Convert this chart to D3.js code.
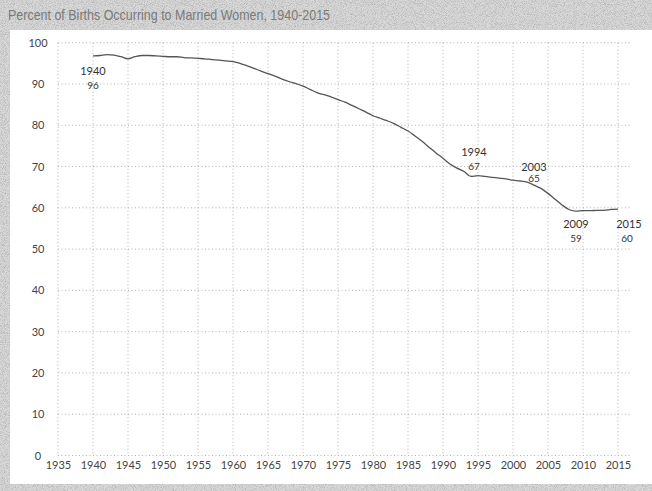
<!DOCTYPE html>
<html lang="en">
<head>
<meta charset="UTF-8">
<title>Percent of Births Occurring to Married Women</title>
<script src="https://d3js.org/d3.v7.min.js"></script>
<style>
  body { margin: 0; background: #fff; }
  svg { display: block; }
</style>
</head>
<body>
<script>
    // data
    const years = d3.range(1940, 2016);
    const pctMarried = [
        96.8, 96.9, 97.1, 97.0, 96.6, 96.1, 96.6, 96.9, 96.9, 96.8,
        96.7, 96.6, 96.6, 96.4, 96.3, 96.2, 96.1, 95.9, 95.8, 95.6,
        95.4, 95.0, 94.4, 93.8, 93.1, 92.5, 91.9, 91.2, 90.6, 90.1,
        89.5, 88.7, 87.9, 87.4, 86.9, 86.2, 85.6, 84.8, 84.0, 83.2,
        82.3, 81.7, 81.1, 80.4, 79.5, 78.6, 77.4, 76.1, 74.7, 73.3,
        72.0, 70.6, 69.6, 68.8, 67.6, 67.8, 67.6, 67.4, 67.2, 67.0,
        66.7, 66.5, 66.2, 65.5, 64.7, 63.5, 62.1, 60.7, 59.6, 59.2,
        59.3, 59.3, 59.4, 59.4, 59.6, 59.7
    ];
    const xTicks = d3.range(1935, 2016, 5);
    const yTicks = d3.range(0, 101, 10);
    const noteYears = [1940, 1994, 2003, 2009, 2015];
    const noteLabels = ["96", "67", "65", "59", "60"];
    const title = "Percent of Births Occurring to Married Women, 1940-2015";

    const width = 652, height = 491;
    const font = "Lato, 'Open Sans', sans-serif";

    const x = d3.scaleLinear().domain([1935, 2015]).range([58, 618]);
    const y = d3.scaleLinear().domain([0, 100]).range([455.5, 42.7]);

    const svg = d3.select("body").append("svg")
        .attr("width", width)
        .attr("height", height);

    // scanned-paper grain for the frame
    const defs = svg.append("defs");
    const f = defs.append("filter").attr("id", "grain")
        .attr("x", 0).attr("y", 0).attr("width", "100%").attr("height", "100%");
    f.append("feTurbulence").attr("type", "fractalNoise")
        .attr("baseFrequency", 1.1).attr("numOctaves", 1).attr("seed", 7);
    f.append("feColorMatrix").attr("type", "matrix")
        .attr("values", "0 0 0 0 0.45  0 0 0 0 0.45  0 0 0 0 0.45  3 0 0 0 -1.3");

    svg.append("rect").attr("width", width).attr("height", height).attr("fill", "#d8d8d8");
    svg.append("rect").attr("width", width).attr("height", height)
        .attr("filter", "url(#grain)");

    // white panel
    svg.append("rect")
        .attr("x", 10).attr("y", 30)
        .attr("width", width - 10).attr("height", 454)
        .attr("fill", "#fff");

    svg.append("text")
        .attr("x", 8).attr("y", 20)
        .attr("font-family", "'Liberation Sans', Arial, sans-serif")
        .attr("font-size", 15)
        .attr("textLength", 322)
        .attr("lengthAdjust", "spacingAndGlyphs")
        .attr("fill", "#7a7a7a")
        .text(title);

    // grid
    const grid = svg.append("g")
        .attr("stroke", "#a0a0a0")
        .attr("stroke-width", 0.8)
        .attr("stroke-dasharray", "1,2.5");

    grid.selectAll("line.h").data(yTicks).join("line")
        .attr("class", "h")
        .attr("x1", x(1935)).attr("x2", 631)
        .attr("y1", d => y(d)).attr("y2", d => y(d));

    grid.selectAll("line.v").data(xTicks).join("line")
        .attr("class", "v")
        .attr("x1", d => x(d)).attr("x2", d => x(d))
        .attr("y1", y(100)).attr("y2", y(0));

    // axis labels
    const yAxis = d3.axisLeft(y).tickValues(yTicks).tickSize(0).tickPadding(0);
    svg.append("g")
        .attr("transform", "translate(38,0)")
        .call(yAxis)
        .call(g => g.select(".domain").remove())
        .call(g => g.selectAll("text")
            .attr("text-anchor", "middle")
            .attr("font-family", font).attr("font-size", 11).attr("fill", "#444"));

    const xAxis = d3.axisBottom(x).tickValues(xTicks).tickFormat(d3.format("d"))
        .tickSize(0).tickPadding(6);
    svg.append("g")
        .attr("transform", `translate(0,${y(0)})`)
        .call(xAxis)
        .call(g => g.select(".domain").remove())
        .call(g => g.selectAll("text")
            .attr("font-family", font).attr("font-size", 11).attr("fill", "#444"));

    // line
    const line = d3.line()
        .x((d, i) => x(years[i]))
        .y(d => y(d))
        .curve(d3.curveMonotoneX);

    svg.append("path")
        .datum(pctMarried)
        .attr("fill", "none")
        .attr("stroke", "#555")
        .attr("stroke-width", 1.3)
        .attr("d", line);

    // annotations: offsets (dx, dy of year label, dy of value label)
    const offsets = {
        1940: [0, 19, 33],
        1994: [3, -20, -6],
        2003: [0, -14, -3],
        2009: [0, 17, 31],
        2015: [11, 19, 33]
    };
    const notes = svg.append("g")
        .attr("font-family", font)
        .attr("font-size", 11)
        .attr("fill", "#333")
        .attr("text-anchor", "middle");

    noteYears.forEach((yr, i) => {
        const v = pctMarried[years.indexOf(yr)];
        const o = offsets[yr];
        notes.append("text")
            .attr("x", x(yr) + o[0]).attr("y", y(v) + o[1])
            .text(yr);
        notes.append("text")
            .attr("x", x(yr) + o[0] - (yr === 2015 ? 2 : 0)).attr("y", y(v) + o[2])
            .attr("font-size", 10)
            .text(noteLabels[i]);
    });
</script>
</body>
</html>
